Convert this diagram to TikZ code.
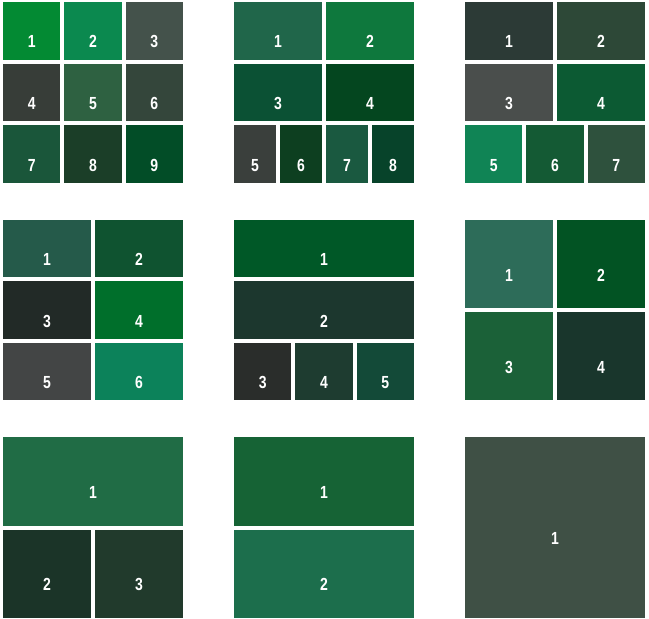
\documentclass[tikz,border=0pt]{standalone}
\usepackage{fontspec}
\newfontfamily\lblfont[FakeStretch=0.80]{Liberation Sans}
\definecolor{ga1}{HTML}{038A33}
\definecolor{ga2}{HTML}{0B894F}
\definecolor{ga3}{HTML}{44524B}
\definecolor{ga4}{HTML}{373D38}
\definecolor{ga5}{HTML}{2E6141}
\definecolor{ga6}{HTML}{34463B}
\definecolor{ga7}{HTML}{1A563A}
\definecolor{ga8}{HTML}{1B3E28}
\definecolor{ga9}{HTML}{024D27}
\definecolor{gb1}{HTML}{20664A}
\definecolor{gb2}{HTML}{0E783D}
\definecolor{gb3}{HTML}{0B5134}
\definecolor{gb4}{HTML}{04461F}
\definecolor{gb5}{HTML}{3A3F3C}
\definecolor{gb6}{HTML}{0D3F20}
\definecolor{gb7}{HTML}{1A5940}
\definecolor{gb8}{HTML}{07432A}
\definecolor{gc1}{HTML}{2C3A36}
\definecolor{gc2}{HTML}{2D4837}
\definecolor{gc3}{HTML}{4A4E4C}
\definecolor{gc4}{HTML}{0C5A33}
\definecolor{gc5}{HTML}{108455}
\definecolor{gc6}{HTML}{145A34}
\definecolor{gc7}{HTML}{2E513D}
\definecolor{gd1}{HTML}{255A4A}
\definecolor{gd2}{HTML}{0F5330}
\definecolor{gd3}{HTML}{222A27}
\definecolor{gd4}{HTML}{006F2B}
\definecolor{gd5}{HTML}{434545}
\definecolor{gd6}{HTML}{0C825A}
\definecolor{ge1}{HTML}{005827}
\definecolor{ge2}{HTML}{1C372E}
\definecolor{ge3}{HTML}{2A2D2B}
\definecolor{ge4}{HTML}{1E3C30}
\definecolor{ge5}{HTML}{134A38}
\definecolor{gf1}{HTML}{2D6C59}
\definecolor{gf2}{HTML}{025323}
\definecolor{gf3}{HTML}{1B6138}
\definecolor{gf4}{HTML}{19362C}
\definecolor{gg1}{HTML}{206C45}
\definecolor{gg2}{HTML}{1B3428}
\definecolor{gg3}{HTML}{213A2C}
\definecolor{gh1}{HTML}{166335}
\definecolor{gh2}{HTML}{1C6E4C}
\definecolor{gi1}{HTML}{3F5045}
\tikzset{
  tile/.style={draw=none, inner sep=0pt, outer sep=0pt, anchor=north west},
  lbl/.style={text=white, font=\lblfont\bfseries\fontsize{17.5}{20}\selectfont, inner sep=0pt}
}
% name, x, y, w, h, colour, text
\newcommand\mytile[7]{%
  \node[tile, fill=#6, minimum width=#4pt, minimum height=#5pt] (#1) at (#2,#3) {};
  \node[lbl] (#1t) at ([yshift=-11pt]#1.center) {#7};
}
\begin{document}
\begin{tikzpicture}[x=1pt,y=-1pt]
\useasboundingbox (0,0) rectangle (649,619);
% group 1: 3x3
\mytile{a1}{3}{2}{57.33}{57.67}{ga1}{1}
\mytile{a2}{64.33}{2}{57.33}{57.67}{ga2}{2}
\mytile{a3}{125.67}{2}{57.33}{57.67}{ga3}{3}
\mytile{a4}{3}{63.67}{57.33}{57.67}{ga4}{4}
\mytile{a5}{64.33}{63.67}{57.33}{57.67}{ga5}{5}
\mytile{a6}{125.67}{63.67}{57.33}{57.67}{ga6}{6}
\mytile{a7}{3}{125.33}{57.33}{57.67}{ga7}{7}
\mytile{a8}{64.33}{125.33}{57.33}{57.67}{ga8}{8}
\mytile{a9}{125.67}{125.33}{57.33}{57.67}{ga9}{9}
% group 2
\mytile{b1}{234}{2}{88}{57.67}{gb1}{1}
\mytile{b2}{326}{2}{88}{57.67}{gb2}{2}
\mytile{b3}{234}{63.67}{88}{57.67}{gb3}{3}
\mytile{b4}{326}{63.67}{88}{57.67}{gb4}{4}
\mytile{b5}{234}{125.33}{42}{57.67}{gb5}{5}
\mytile{b6}{280}{125.33}{42}{57.67}{gb6}{6}
\mytile{b7}{326}{125.33}{42}{57.67}{gb7}{7}
\mytile{b8}{372}{125.33}{42}{57.67}{gb8}{8}
% group 3
\mytile{c1}{465}{2}{88}{57.67}{gc1}{1}
\mytile{c2}{557}{2}{88}{57.67}{gc2}{2}
\mytile{c3}{465}{63.67}{88}{57.67}{gc3}{3}
\mytile{c4}{557}{63.67}{88}{57.67}{gc4}{4}
\mytile{c5}{465}{125.33}{57.33}{57.67}{gc5}{5}
\mytile{c6}{526.33}{125.33}{57.33}{57.67}{gc6}{6}
\mytile{c7}{587.67}{125.33}{57.33}{57.67}{gc7}{7}
% group 4
\mytile{d1}{3}{220}{88}{57.33}{gd1}{1}
\mytile{d2}{95}{220}{88}{57.33}{gd2}{2}
\mytile{d3}{3}{281.33}{88}{57.33}{gd3}{3}
\mytile{d4}{95}{281.33}{88}{57.33}{gd4}{4}
\mytile{d5}{3}{342.67}{88}{57.33}{gd5}{5}
\mytile{d6}{95}{342.67}{88}{57.33}{gd6}{6}
% group 5
\mytile{e1}{234}{220}{180}{57.33}{ge1}{1}
\mytile{e2}{234}{281.33}{180}{57.33}{ge2}{2}
\mytile{e3}{234}{342.67}{57.33}{57.33}{ge3}{3}
\mytile{e4}{295.33}{342.67}{57.33}{57.33}{ge4}{4}
\mytile{e5}{356.67}{342.67}{57.33}{57.33}{ge5}{5}
% group 6
\mytile{f1}{465}{220}{88}{88}{gf1}{1}
\mytile{f2}{557}{220}{88}{88}{gf2}{2}
\mytile{f3}{465}{312}{88}{88}{gf3}{3}
\mytile{f4}{557}{312}{88}{88}{gf4}{4}
% group 7
\mytile{g1}{3}{437}{180}{88.5}{gg1}{1}
\mytile{g2}{3}{529.5}{88}{88.5}{gg2}{2}
\mytile{g3}{95}{529.5}{88}{88.5}{gg3}{3}
% group 8
\mytile{h1}{234}{437}{180}{88.5}{gh1}{1}
\mytile{h2}{234}{529.5}{180}{88.5}{gh2}{2}
% group 9
\mytile{i1}{465}{437}{180}{181}{gi1}{1}
\end{tikzpicture}
\end{document}
